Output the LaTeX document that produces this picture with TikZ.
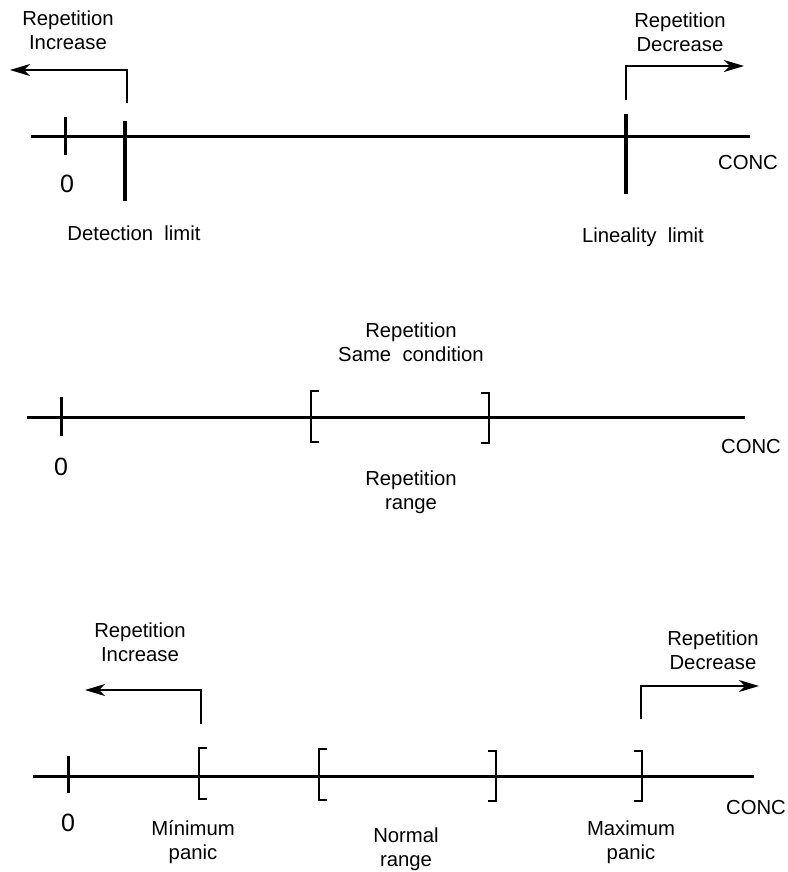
\documentclass[tikz,border=0pt]{standalone}
\usepackage{fontspec}
\setmainfont{Liberation Sans}
\usetikzlibrary{arrows.meta}
\begin{document}
\begin{tikzpicture}[x=1pt,y=-1pt,
  axis/.style={line width=3pt},
  zerotick/.style={line width=3pt},
  limittick/.style={line width=4pt},
  brk/.style={line width=1.5pt},
  pointer/.style={line width=1.4pt,-{Stealth[length=20pt,width=12pt,inset=6pt]}},
  lbl/.style={inner sep=0pt,align=center,font=\fontsize{20.3}{24}\selectfont},
  zerolbl/.style={inner sep=0pt,font=\fontsize{25}{30}\selectfont}]
\useasboundingbox (0,0) rectangle (787,872);

% --- Axis 1: detection and lineality limits
\coordinate (a1s) at (31,136);
\coordinate (a1e) at (750,136);
\draw[axis] (a1s) -- (a1e);
\draw[zerotick] (65,117) -- (65,155);
\draw[limittick] (125,121) -- (125,201);
\draw[limittick] (626,114) -- (626,194);
\coordinate (incA) at (127,103);
\coordinate (incAe) at (10,70);
\draw[pointer] (incA) |- (incAe);
\coordinate (decA) at (626,100);
\coordinate (decAe) at (744,66);
\draw[pointer] (decA) |- (decAe);
\node[lbl] (t1inc) at (68,30) {Repetition\\Increase};
\node[lbl] (t1dec) at (680,32) {Repetition\\Decrease};
\node[zerolbl] (t1zero) at (67,184) {0};
\node[lbl] (t1conc) at (748,163) {CONC};
\node[lbl] (t1det) at (134,233) {Detection\ \ limit};
\node[lbl] (t1lin) at (643,237) {Lineality\ \ limit};

% --- Axis 2: repetition range
\coordinate (a2s) at (27,417);
\coordinate (a2e) at (745,417);
\draw[axis] (a2s) -- (a2e);
\draw[zerotick] (61,397) -- (61,436);
\draw[brk] (319,391) -- (311,391) -- (311,442) -- (319,442);
\draw[brk] (481,393) -- (489,393) -- (489,443) -- (481,443);
\node[lbl] (t2same) at (411,342) {Repetition\\Same\ \ condition};
\node[lbl] (t2range) at (411,492) {Repetition\\range};
\node[zerolbl] (t2zero) at (61,467) {0};
\node[lbl] (t2conc) at (751,447) {CONC};

% --- Axis 3: panic limits and normal range
\coordinate (a3s) at (33,776);
\coordinate (a3e) at (754,776);
\draw[axis] (a3s) -- (a3e);
\draw[zerotick] (68,756) -- (68,793);
\draw[brk] (207,748) -- (199,748) -- (199,799) -- (207,799);
\draw[brk] (327,749) -- (319,749) -- (319,800) -- (327,800);
\draw[brk] (488,751) -- (496,751) -- (496,801) -- (488,801);
\draw[brk] (634,751) -- (642,751) -- (642,801) -- (634,801);
\coordinate (incB) at (201,724);
\coordinate (incBe) at (85,690);
\draw[pointer] (incB) |- (incBe);
\coordinate (decB) at (641,719);
\coordinate (decBe) at (759,686);
\draw[pointer] (decB) |- (decBe);
\node[lbl] (t3inc) at (140,642) {Repetition\\Increase};
\node[lbl] (t3dec) at (713,650) {Repetition\\Decrease};
\node[zerolbl] (t3zero) at (68,823) {0};
\node[lbl] (t3conc) at (756,808) {CONC};
\node[lbl] (t3min) at (193,842) {Mínimum\\panic};
\node[lbl] (t3norm) at (406,849) {Normal\\range};
\node[lbl] (t3max) at (631,842) {Maximum\\panic};
\end{tikzpicture}
\end{document}
